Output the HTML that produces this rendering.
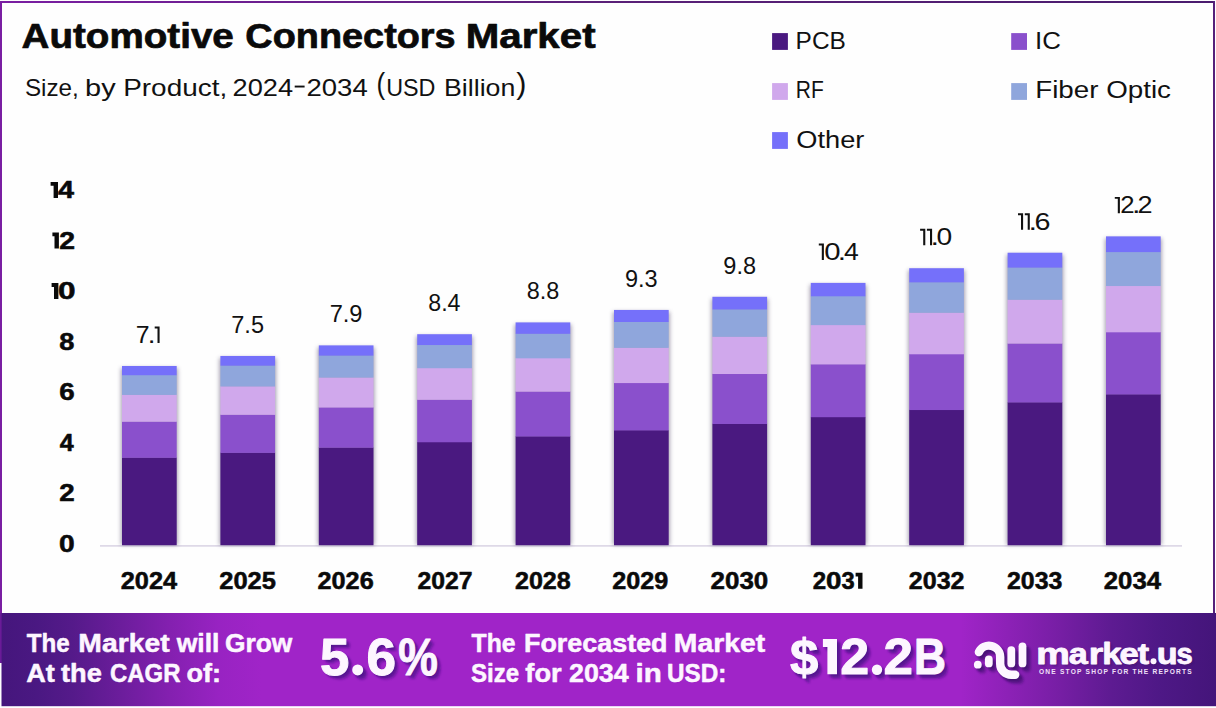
<!DOCTYPE html>
<html><head><meta charset="utf-8"><title>Automotive Connectors Market</title>
<style>html,body{margin:0;padding:0;background:#fff;}body{width:1216px;height:708px;overflow:hidden;font-family:"Liberation Sans",sans-serif;}svg{display:block;}text{font-family:"Liberation Sans",sans-serif;}</style></head><body>
<svg width="1216" height="708" viewBox="0 0 1216 708">
<defs>
<linearGradient id="bg" x1="0" y1="0" x2="1" y2="0">
<stop offset="0" stop-color="#45167c"/>
<stop offset="0.03" stop-color="#4a1882"/>
<stop offset="0.06" stop-color="#551a8a"/>
<stop offset="0.10" stop-color="#6c1d9c"/>
<stop offset="0.14" stop-color="#8420b0"/>
<stop offset="0.18" stop-color="#9823c2"/>
<stop offset="0.215" stop-color="#a024c8"/>
<stop offset="0.79" stop-color="#a024c8"/>
<stop offset="0.83" stop-color="#8c21b6"/>
<stop offset="0.872" stop-color="#761ea4"/>
<stop offset="0.913" stop-color="#5e1b92"/>
<stop offset="0.954" stop-color="#4e1886"/>
<stop offset="1" stop-color="#44157a"/>
</linearGradient>
<linearGradient id="bd" x1="0" y1="0" x2="1" y2="0">
<stop offset="0" stop-color="#7a1ea2"/>
<stop offset="0.5" stop-color="#5a2078"/>
<stop offset="1" stop-color="#4a1c6e"/>
</linearGradient>
<filter id="bsh" x="-20%" y="-5%" width="140%" height="110%"><feGaussianBlur stdDeviation="1.9"/></filter>
<filter id="tsh" x="-10%" y="-10%" width="130%" height="140%"><feGaussianBlur stdDeviation="1.2"/></filter>
</defs>
<rect x="0" y="0" width="1216" height="708" fill="#fefefe"/>
<rect x="0" y="1" width="1215" height="2" fill="url(#bd)"/>
<rect x="1213" y="1" width="2" height="613" fill="#55207a"/>
<text x="21.53" y="47.90" font-size="35" font-weight="700" fill="#0a0a0a" textLength="212.33" lengthAdjust="spacingAndGlyphs" stroke="#0a0a0a" stroke-width="0.7" stroke-linejoin="round">Automotive</text>
<text x="245.39" y="47.90" font-size="35" font-weight="700" fill="#0a0a0a" textLength="210.28" lengthAdjust="spacingAndGlyphs" stroke="#0a0a0a" stroke-width="0.7" stroke-linejoin="round">Connectors</text>
<text x="465.78" y="47.90" font-size="35" font-weight="700" fill="#0a0a0a" textLength="129.77" lengthAdjust="spacingAndGlyphs" stroke="#0a0a0a" stroke-width="0.7" stroke-linejoin="round">Market</text>
<text x="24.91" y="95.50" font-size="24" font-weight="400" fill="#111" textLength="53.89" lengthAdjust="spacingAndGlyphs" >Size,</text>
<text x="85.12" y="95.50" font-size="24" font-weight="400" fill="#111" textLength="30.59" lengthAdjust="spacingAndGlyphs" >by</text>
<text x="123.20" y="95.50" font-size="24" font-weight="400" fill="#111" textLength="104.00" lengthAdjust="spacingAndGlyphs" >Product,</text>
<text x="232.54" y="95.50" font-size="24" font-weight="400" fill="#111" textLength="60.47" lengthAdjust="spacingAndGlyphs" >2024</text>
<text x="306.52" y="95.50" font-size="24" font-weight="400" fill="#111" textLength="61.19" lengthAdjust="spacingAndGlyphs" >2034</text>
<text x="386.19" y="95.50" font-size="24" font-weight="400" fill="#111" textLength="49.29" lengthAdjust="spacingAndGlyphs" >USD</text>
<text x="444.00" y="95.50" font-size="24" font-weight="400" fill="#111" textLength="71.29" lengthAdjust="spacingAndGlyphs" >Billion</text>
<rect x="294.7" y="85.6" width="9.9" height="1.9" fill="#111"/>
<text x="376.47" y="93.80" font-size="30" font-weight="400" fill="#111" textLength="8.67" lengthAdjust="spacingAndGlyphs" >(</text>
<text x="516.17" y="93.80" font-size="30" font-weight="400" fill="#111" textLength="10.18" lengthAdjust="spacingAndGlyphs" >)</text>
<rect x="772.1" y="33.1" width="15.8" height="16.8" fill="#4a1980"/>
<text x="795.58" y="49.00" font-size="24.4" font-weight="400" fill="#111" textLength="50.27" lengthAdjust="spacingAndGlyphs" >PCB</text>
<rect x="772.1" y="83.1" width="15.8" height="16.8" fill="#d0a8ec"/>
<text x="795.87" y="97.70" font-size="24.4" font-weight="400" fill="#111" textLength="27.98" lengthAdjust="spacingAndGlyphs" >RF</text>
<rect x="772.1" y="132.1" width="15.8" height="16.8" fill="#7570fa"/>
<text x="796.31" y="147.50" font-size="24.4" font-weight="400" fill="#111" textLength="68.13" lengthAdjust="spacingAndGlyphs" >Other</text>
<rect x="1011.2" y="33.1" width="15.8" height="16.8" fill="#8a50cc"/>
<text x="1035.11" y="49.00" font-size="24.4" font-weight="400" fill="#111" textLength="25.86" lengthAdjust="spacingAndGlyphs" >IC</text>
<rect x="1011.2" y="83.1" width="15.8" height="16.8" fill="#8fa6dc"/>
<text x="1035.21" y="97.70" font-size="24.4" font-weight="400" fill="#111" textLength="135.76" lengthAdjust="spacingAndGlyphs" >Fiber Optic</text>
<text x="59.07" y="551.80" font-size="23" font-weight="700" fill="#0a0a0a" textLength="15.69" lengthAdjust="spacingAndGlyphs" stroke="#0a0a0a" stroke-width="0.5" stroke-linejoin="round">0</text>
<text x="59.23" y="501.26" font-size="23" font-weight="700" fill="#0a0a0a" textLength="15.45" lengthAdjust="spacingAndGlyphs" stroke="#0a0a0a" stroke-width="0.5" stroke-linejoin="round">2</text>
<text x="59.82" y="450.72" font-size="23" font-weight="700" fill="#0a0a0a" textLength="13.93" lengthAdjust="spacingAndGlyphs" stroke="#0a0a0a" stroke-width="0.5" stroke-linejoin="round">4</text>
<text x="59.16" y="400.18" font-size="23" font-weight="700" fill="#0a0a0a" textLength="15.45" lengthAdjust="spacingAndGlyphs" stroke="#0a0a0a" stroke-width="0.5" stroke-linejoin="round">6</text>
<text x="59.32" y="349.64" font-size="23" font-weight="700" fill="#0a0a0a" textLength="15.13" lengthAdjust="spacingAndGlyphs" stroke="#0a0a0a" stroke-width="0.5" stroke-linejoin="round">8</text>
<path d="M51.60 283.00H58.40V299.10H54.00V286.90H51.60Z" fill="#0a0a0a" />
<text x="58.04" y="299.10" font-size="23" font-weight="700" fill="#0a0a0a" textLength="17.56" lengthAdjust="spacingAndGlyphs" stroke="#0a0a0a" stroke-width="0.5" stroke-linejoin="round">0</text>
<path d="M52.40 232.46H58.90V248.56H54.50V236.36H52.40Z" fill="#0a0a0a" />
<text x="59.21" y="248.56" font-size="23" font-weight="700" fill="#0a0a0a" textLength="15.79" lengthAdjust="spacingAndGlyphs" stroke="#0a0a0a" stroke-width="0.5" stroke-linejoin="round">2</text>
<path d="M50.60 181.92H58.00V198.02H53.60V185.82H50.60Z" fill="#0a0a0a" />
<text x="58.07" y="198.02" font-size="23" font-weight="700" fill="#0a0a0a" textLength="16.01" lengthAdjust="spacingAndGlyphs" stroke="#0a0a0a" stroke-width="0.5" stroke-linejoin="round">4</text>
<rect x="100" y="545.1999999999999" width="1082" height="1.4" fill="#d6d0e2"/>
<rect x="121.0" y="368.0" width="56.7" height="176.9" fill="#5a5070" opacity="0.55" filter="url(#bsh)"/>
<rect x="122.0" y="457.50" width="54.7" height="87.70" fill="#4a1980"/>
<rect x="122.0" y="421.45" width="54.7" height="36.35" fill="#8a50cc"/>
<rect x="122.0" y="394.61" width="54.7" height="27.14" fill="#d0a8ec"/>
<rect x="122.0" y="374.93" width="54.7" height="19.98" fill="#8fa6dc"/>
<rect x="122.0" y="365.98" width="54.7" height="9.25" fill="#7570fa"/>
<text x="135.66" y="342.98" font-size="23.6" font-weight="400" fill="#111" textLength="13.81" lengthAdjust="spacingAndGlyphs" >7</text>
<text x="147.71" y="342.98" font-size="23.6" font-weight="400" fill="#111" textLength="7.69" lengthAdjust="spacingAndGlyphs" >.</text>
<path d="M154.70 326.58H159.60V342.98H157.50V328.48H154.70Z" fill="#111" />
<text x="120.71" y="588.80" font-size="23" font-weight="700" fill="#0a0a0a" textLength="56.37" lengthAdjust="spacingAndGlyphs" stroke="#0a0a0a" stroke-width="0.5" stroke-linejoin="round">2024</text>
<rect x="219.4" y="358.0" width="56.7" height="186.9" fill="#5a5070" opacity="0.55" filter="url(#bsh)"/>
<rect x="220.4" y="452.60" width="54.7" height="92.60" fill="#4a1980"/>
<rect x="220.4" y="414.53" width="54.7" height="38.37" fill="#8a50cc"/>
<rect x="220.4" y="386.19" width="54.7" height="28.64" fill="#d0a8ec"/>
<rect x="220.4" y="365.41" width="54.7" height="21.08" fill="#8fa6dc"/>
<rect x="220.4" y="355.96" width="54.7" height="9.75" fill="#7570fa"/>
<text x="231.27" y="332.96" font-size="23.6" font-weight="400" fill="#111" textLength="32.72" lengthAdjust="spacingAndGlyphs" >7.5</text>
<text x="219.21" y="588.80" font-size="23" font-weight="700" fill="#0a0a0a" textLength="56.75" lengthAdjust="spacingAndGlyphs" stroke="#0a0a0a" stroke-width="0.5" stroke-linejoin="round">2025</text>
<rect x="317.8" y="347.4" width="56.7" height="197.5" fill="#5a5070" opacity="0.55" filter="url(#bsh)"/>
<rect x="318.8" y="447.43" width="54.7" height="97.77" fill="#4a1980"/>
<rect x="318.8" y="407.23" width="54.7" height="40.50" fill="#8a50cc"/>
<rect x="318.8" y="377.30" width="54.7" height="30.23" fill="#d0a8ec"/>
<rect x="318.8" y="355.36" width="54.7" height="22.25" fill="#8fa6dc"/>
<rect x="318.8" y="345.38" width="54.7" height="10.28" fill="#7570fa"/>
<text x="329.67" y="322.38" font-size="23.6" font-weight="400" fill="#111" textLength="32.85" lengthAdjust="spacingAndGlyphs" >7.9</text>
<text x="317.52" y="588.80" font-size="23" font-weight="700" fill="#0a0a0a" textLength="56.22" lengthAdjust="spacingAndGlyphs" stroke="#0a0a0a" stroke-width="0.5" stroke-linejoin="round">2026</text>
<rect x="416.2" y="336.2" width="56.7" height="208.7" fill="#5a5070" opacity="0.55" filter="url(#bsh)"/>
<rect x="417.2" y="441.98" width="54.7" height="103.22" fill="#4a1980"/>
<rect x="417.2" y="399.52" width="54.7" height="42.75" fill="#8a50cc"/>
<rect x="417.2" y="367.92" width="54.7" height="31.90" fill="#d0a8ec"/>
<rect x="417.2" y="344.74" width="54.7" height="23.48" fill="#8fa6dc"/>
<rect x="417.2" y="334.21" width="54.7" height="10.83" fill="#7570fa"/>
<text x="428.26" y="311.21" font-size="23.6" font-weight="400" fill="#111" textLength="32.23" lengthAdjust="spacingAndGlyphs" >8.4</text>
<text x="417.53" y="588.80" font-size="23" font-weight="700" fill="#0a0a0a" textLength="55.07" lengthAdjust="spacingAndGlyphs" stroke="#0a0a0a" stroke-width="0.5" stroke-linejoin="round">2027</text>
<rect x="514.6" y="324.4" width="56.7" height="220.5" fill="#5a5070" opacity="0.55" filter="url(#bsh)"/>
<rect x="515.6" y="436.21" width="54.7" height="108.99" fill="#4a1980"/>
<rect x="515.6" y="391.38" width="54.7" height="45.13" fill="#8a50cc"/>
<rect x="515.6" y="358.01" width="54.7" height="33.67" fill="#d0a8ec"/>
<rect x="515.6" y="333.53" width="54.7" height="24.77" fill="#8fa6dc"/>
<rect x="515.6" y="322.41" width="54.7" height="11.42" fill="#7570fa"/>
<text x="526.65" y="299.41" font-size="23.6" font-weight="400" fill="#111" textLength="32.60" lengthAdjust="spacingAndGlyphs" >8.8</text>
<text x="514.92" y="588.80" font-size="23" font-weight="700" fill="#0a0a0a" textLength="55.89" lengthAdjust="spacingAndGlyphs" stroke="#0a0a0a" stroke-width="0.5" stroke-linejoin="round">2028</text>
<rect x="613.0" y="311.9" width="56.7" height="233.0" fill="#5a5070" opacity="0.55" filter="url(#bsh)"/>
<rect x="614.0" y="430.13" width="54.7" height="115.07" fill="#4a1980"/>
<rect x="614.0" y="382.78" width="54.7" height="47.64" fill="#8a50cc"/>
<rect x="614.0" y="347.54" width="54.7" height="35.54" fill="#d0a8ec"/>
<rect x="614.0" y="321.70" width="54.7" height="26.14" fill="#8fa6dc"/>
<rect x="614.0" y="309.95" width="54.7" height="12.05" fill="#7570fa"/>
<text x="624.93" y="286.95" font-size="23.6" font-weight="400" fill="#111" textLength="32.72" lengthAdjust="spacingAndGlyphs" >9.3</text>
<text x="612.32" y="588.80" font-size="23" font-weight="700" fill="#0a0a0a" textLength="56.02" lengthAdjust="spacingAndGlyphs" stroke="#0a0a0a" stroke-width="0.5" stroke-linejoin="round">2029</text>
<rect x="711.4" y="298.8" width="56.7" height="246.1" fill="#5a5070" opacity="0.55" filter="url(#bsh)"/>
<rect x="712.4" y="423.70" width="54.7" height="121.50" fill="#4a1980"/>
<rect x="712.4" y="373.70" width="54.7" height="50.29" fill="#8a50cc"/>
<rect x="712.4" y="336.49" width="54.7" height="37.52" fill="#d0a8ec"/>
<rect x="712.4" y="309.20" width="54.7" height="27.59" fill="#8fa6dc"/>
<rect x="712.4" y="296.79" width="54.7" height="12.71" fill="#7570fa"/>
<text x="723.33" y="273.79" font-size="23.6" font-weight="400" fill="#111" textLength="32.72" lengthAdjust="spacingAndGlyphs" >9.8</text>
<text x="710.59" y="588.80" font-size="23" font-weight="700" fill="#0a0a0a" textLength="57.70" lengthAdjust="spacingAndGlyphs" stroke="#0a0a0a" stroke-width="0.5" stroke-linejoin="round">2030</text>
<rect x="809.8" y="284.9" width="56.7" height="260.0" fill="#5a5070" opacity="0.55" filter="url(#bsh)"/>
<rect x="810.8" y="416.91" width="54.7" height="128.29" fill="#4a1980"/>
<rect x="810.8" y="364.12" width="54.7" height="53.09" fill="#8a50cc"/>
<rect x="810.8" y="324.82" width="54.7" height="39.60" fill="#d0a8ec"/>
<rect x="810.8" y="296.00" width="54.7" height="29.12" fill="#8fa6dc"/>
<rect x="810.8" y="282.90" width="54.7" height="13.40" fill="#7570fa"/>
<path d="M818.80 243.50H823.90V259.90H821.80V245.40H818.80Z" fill="#111" />
<text x="824.23" y="259.90" font-size="23.6" font-weight="400" fill="#111" textLength="16.31" lengthAdjust="spacingAndGlyphs" >0</text>
<text x="837.72" y="259.90" font-size="23.6" font-weight="400" fill="#111" textLength="8.26" lengthAdjust="spacingAndGlyphs" >.</text>
<text x="843.90" y="259.90" font-size="23.6" font-weight="400" fill="#111" textLength="14.76" lengthAdjust="spacingAndGlyphs" >4</text>
<text x="812.86" y="588.80" font-size="23" font-weight="700" fill="#0a0a0a" textLength="13.37" lengthAdjust="spacingAndGlyphs" stroke="#0a0a0a" stroke-width="0.5" stroke-linejoin="round">2</text>
<text x="825.99" y="588.80" font-size="23" font-weight="700" fill="#0a0a0a" textLength="15.46" lengthAdjust="spacingAndGlyphs" stroke="#0a0a0a" stroke-width="0.5" stroke-linejoin="round">0</text>
<text x="841.57" y="588.80" font-size="23" font-weight="700" fill="#0a0a0a" textLength="13.19" lengthAdjust="spacingAndGlyphs" stroke="#0a0a0a" stroke-width="0.5" stroke-linejoin="round">3</text>
<path d="M855.60 572.70H862.50V588.80H858.10V576.60H855.60Z" fill="#0a0a0a" />
<rect x="908.2" y="270.2" width="56.7" height="274.7" fill="#5a5070" opacity="0.55" filter="url(#bsh)"/>
<rect x="909.2" y="409.74" width="54.7" height="135.46" fill="#4a1980"/>
<rect x="909.2" y="353.99" width="54.7" height="56.05" fill="#8a50cc"/>
<rect x="909.2" y="312.49" width="54.7" height="41.80" fill="#d0a8ec"/>
<rect x="909.2" y="282.06" width="54.7" height="30.73" fill="#8fa6dc"/>
<rect x="909.2" y="268.22" width="54.7" height="14.13" fill="#7570fa"/>
<path d="M920.10 228.82H925.30V245.22H923.20V230.72H920.10Z" fill="#111" />
<path d="M926.90 228.82H932.10V245.22H930.00V230.72H926.90Z" fill="#111" />
<text x="930.53" y="245.22" font-size="23.6" font-weight="400" fill="#111" textLength="8.55" lengthAdjust="spacingAndGlyphs" >.</text>
<text x="936.57" y="245.22" font-size="23.6" font-weight="400" fill="#111" textLength="15.72" lengthAdjust="spacingAndGlyphs" >0</text>
<text x="908.82" y="588.80" font-size="23" font-weight="700" fill="#0a0a0a" textLength="55.67" lengthAdjust="spacingAndGlyphs" stroke="#0a0a0a" stroke-width="0.5" stroke-linejoin="round">2032</text>
<rect x="1006.6" y="254.7" width="56.7" height="290.2" fill="#5a5070" opacity="0.55" filter="url(#bsh)"/>
<rect x="1007.6" y="402.18" width="54.7" height="143.02" fill="#4a1980"/>
<rect x="1007.6" y="343.30" width="54.7" height="59.17" fill="#8a50cc"/>
<rect x="1007.6" y="299.48" width="54.7" height="44.13" fill="#d0a8ec"/>
<rect x="1007.6" y="267.34" width="54.7" height="32.44" fill="#8fa6dc"/>
<rect x="1007.6" y="252.73" width="54.7" height="14.91" fill="#7570fa"/>
<path d="M1018.00 213.33H1023.10V229.73H1021.00V215.23H1018.00Z" fill="#111" />
<path d="M1024.80 213.33H1029.80V229.73H1027.70V215.23H1024.80Z" fill="#111" />
<text x="1028.53" y="229.73" font-size="23.6" font-weight="400" fill="#111" textLength="8.55" lengthAdjust="spacingAndGlyphs" >.</text>
<text x="1034.46" y="229.73" font-size="23.6" font-weight="400" fill="#111" textLength="15.99" lengthAdjust="spacingAndGlyphs" >6</text>
<text x="1007.03" y="588.80" font-size="23" font-weight="700" fill="#0a0a0a" textLength="55.40" lengthAdjust="spacingAndGlyphs" stroke="#0a0a0a" stroke-width="0.5" stroke-linejoin="round">2033</text>
<rect x="1105.0" y="238.4" width="56.7" height="306.5" fill="#5a5070" opacity="0.55" filter="url(#bsh)"/>
<rect x="1106.0" y="394.18" width="54.7" height="151.02" fill="#4a1980"/>
<rect x="1106.0" y="332.01" width="54.7" height="62.47" fill="#8a50cc"/>
<rect x="1106.0" y="285.73" width="54.7" height="46.58" fill="#d0a8ec"/>
<rect x="1106.0" y="251.80" width="54.7" height="34.24" fill="#8fa6dc"/>
<rect x="1106.0" y="236.37" width="54.7" height="15.73" fill="#7570fa"/>
<path d="M1114.80 196.97H1119.90V213.37H1117.80V198.87H1114.80Z" fill="#111" />
<text x="1120.31" y="213.37" font-size="23.6" font-weight="400" fill="#111" textLength="14.30" lengthAdjust="spacingAndGlyphs" >2</text>
<text x="1131.93" y="213.37" font-size="23.6" font-weight="400" fill="#111" textLength="8.55" lengthAdjust="spacingAndGlyphs" >.</text>
<text x="1137.55" y="213.37" font-size="23.6" font-weight="400" fill="#111" textLength="15.03" lengthAdjust="spacingAndGlyphs" >2</text>
<text x="1103.80" y="588.80" font-size="23" font-weight="700" fill="#0a0a0a" textLength="57.29" lengthAdjust="spacingAndGlyphs" stroke="#0a0a0a" stroke-width="0.5" stroke-linejoin="round">2034</text>
<rect x="0" y="613" width="1216" height="93.2" fill="url(#bg)"/>
<rect x="0" y="663" width="1.5" height="45" fill="#fefefe"/>
<rect x="0" y="1" width="2" height="612" fill="#7a1ea2"/>
<rect x="0" y="613" width="1.6" height="50" fill="#6a1b98"/>
<text x="26.66" y="652.00" font-size="25.1" font-weight="700" fill="#fdf6ff" textLength="42.94" lengthAdjust="spacingAndGlyphs" stroke="#fdf6ff" stroke-width="0.5" stroke-linejoin="round">The</text>
<text x="78.39" y="652.00" font-size="25.1" font-weight="700" fill="#fdf6ff" textLength="91.20" lengthAdjust="spacingAndGlyphs" stroke="#fdf6ff" stroke-width="0.5" stroke-linejoin="round">Market</text>
<text x="176.67" y="652.00" font-size="25.1" font-weight="700" fill="#fdf6ff" textLength="42.83" lengthAdjust="spacingAndGlyphs" stroke="#fdf6ff" stroke-width="0.5" stroke-linejoin="round">will</text>
<text x="225.05" y="652.00" font-size="25.1" font-weight="700" fill="#fdf6ff" textLength="67.31" lengthAdjust="spacingAndGlyphs" stroke="#fdf6ff" stroke-width="0.5" stroke-linejoin="round">Grow</text>
<text x="26.22" y="681.80" font-size="25.1" font-weight="700" fill="#fdf6ff" textLength="28.62" lengthAdjust="spacingAndGlyphs" stroke="#fdf6ff" stroke-width="0.5" stroke-linejoin="round">At</text>
<text x="61.06" y="681.80" font-size="25.1" font-weight="700" fill="#fdf6ff" textLength="40.83" lengthAdjust="spacingAndGlyphs" stroke="#fdf6ff" stroke-width="0.5" stroke-linejoin="round">the</text>
<text x="110.04" y="681.80" font-size="25.1" font-weight="700" fill="#fdf6ff" textLength="70.48" lengthAdjust="spacingAndGlyphs" stroke="#fdf6ff" stroke-width="0.5" stroke-linejoin="round">CAGR</text>
<text x="186.52" y="681.80" font-size="25.1" font-weight="700" fill="#fdf6ff" textLength="34.53" lengthAdjust="spacingAndGlyphs" stroke="#fdf6ff" stroke-width="0.5" stroke-linejoin="round">of:</text>
<text x="471.55" y="652.00" font-size="25.1" font-weight="700" fill="#fdf6ff" textLength="43.96" lengthAdjust="spacingAndGlyphs" stroke="#fdf6ff" stroke-width="0.5" stroke-linejoin="round">The</text>
<text x="523.98" y="652.00" font-size="25.1" font-weight="700" fill="#fdf6ff" textLength="143.58" lengthAdjust="spacingAndGlyphs" stroke="#fdf6ff" stroke-width="0.5" stroke-linejoin="round">Forecasted</text>
<text x="673.89" y="652.00" font-size="25.1" font-weight="700" fill="#fdf6ff" textLength="91.20" lengthAdjust="spacingAndGlyphs" stroke="#fdf6ff" stroke-width="0.5" stroke-linejoin="round">Market</text>
<text x="471.08" y="681.60" font-size="25.1" font-weight="700" fill="#fdf6ff" textLength="48.13" lengthAdjust="spacingAndGlyphs" stroke="#fdf6ff" stroke-width="0.5" stroke-linejoin="round">Size</text>
<text x="525.32" y="681.60" font-size="25.1" font-weight="700" fill="#fdf6ff" textLength="36.33" lengthAdjust="spacingAndGlyphs" stroke="#fdf6ff" stroke-width="0.5" stroke-linejoin="round">for</text>
<text x="569.06" y="681.60" font-size="25.1" font-weight="700" fill="#fdf6ff" textLength="59.53" lengthAdjust="spacingAndGlyphs" stroke="#fdf6ff" stroke-width="0.5" stroke-linejoin="round">2034</text>
<text x="635.53" y="681.60" font-size="25.1" font-weight="700" fill="#fdf6ff" textLength="26.28" lengthAdjust="spacingAndGlyphs" stroke="#fdf6ff" stroke-width="0.5" stroke-linejoin="round">in</text>
<text x="666.94" y="681.60" font-size="25.1" font-weight="700" fill="#fdf6ff" textLength="59.35" lengthAdjust="spacingAndGlyphs" stroke="#fdf6ff" stroke-width="0.5" stroke-linejoin="round">USD:</text>
<text x="324.31" y="678.90" font-size="51.5" font-weight="700" fill="#4a1088" textLength="29.40" lengthAdjust="spacingAndGlyphs" fill-opacity="0.55" filter="url(#tsh)">5</text>
<circle cx="361.9" cy="674.3" r="5.5" fill="#4a1088" fill-opacity="0.55" filter="url(#tsh)"/>
<text x="370.60" y="678.90" font-size="51.5" font-weight="700" fill="#4a1088" textLength="29.62" lengthAdjust="spacingAndGlyphs" fill-opacity="0.55" filter="url(#tsh)">6</text>
<text x="402.39" y="678.90" font-size="51.5" font-weight="700" fill="#4a1088" textLength="39.60" lengthAdjust="spacingAndGlyphs" fill-opacity="0.55" filter="url(#tsh)">%</text>
<text x="322.31" y="676.90" font-size="51.5" font-weight="700" fill="#4a1088" textLength="29.40" lengthAdjust="spacingAndGlyphs" fill-opacity="0.8" filter="url(#tsh)">5</text>
<circle cx="359.9" cy="672.3" r="5.5" fill="#4a1088" fill-opacity="0.8" filter="url(#tsh)"/>
<text x="368.60" y="676.90" font-size="51.5" font-weight="700" fill="#4a1088" textLength="29.62" lengthAdjust="spacingAndGlyphs" fill-opacity="0.8" filter="url(#tsh)">6</text>
<text x="400.39" y="676.90" font-size="51.5" font-weight="700" fill="#4a1088" textLength="39.60" lengthAdjust="spacingAndGlyphs" fill-opacity="0.8" filter="url(#tsh)">%</text>
<text x="320.11" y="674.50" font-size="51.5" font-weight="700" fill="#fdf6ff" textLength="29.40" lengthAdjust="spacingAndGlyphs" stroke="#fdf6ff" stroke-width="1" stroke-linejoin="round">5</text>
<circle cx="357.7" cy="669.9" r="5.5" fill="#fdf6ff"/>
<text x="366.40" y="674.50" font-size="51.5" font-weight="700" fill="#fdf6ff" textLength="29.62" lengthAdjust="spacingAndGlyphs" stroke="#fdf6ff" stroke-width="1" stroke-linejoin="round">6</text>
<text x="398.19" y="674.50" font-size="51.5" font-weight="700" fill="#fdf6ff" textLength="39.60" lengthAdjust="spacingAndGlyphs" stroke="#fdf6ff" stroke-width="1" stroke-linejoin="round">%</text>
<text x="794.26" y="678.70" font-size="50.5" font-weight="700" fill="#4a1088" textLength="28.33" lengthAdjust="spacingAndGlyphs" fill-opacity="0.55" filter="url(#tsh)">$</text>
<path d="M827.10 643.30H841.20V678.70H831.60V651.30H827.10Z" fill="#4a1088" fill-opacity="0.55" filter="url(#tsh)"/>
<text x="844.58" y="678.70" font-size="50.5" font-weight="700" fill="#4a1088" textLength="28.93" lengthAdjust="spacingAndGlyphs" fill-opacity="0.55" filter="url(#tsh)">2</text>
<circle cx="881.2" cy="674.1" r="5.2" fill="#4a1088" fill-opacity="0.55" filter="url(#tsh)"/>
<text x="887.74" y="678.70" font-size="50.5" font-weight="700" fill="#4a1088" textLength="29.51" lengthAdjust="spacingAndGlyphs" fill-opacity="0.55" filter="url(#tsh)">2</text>
<text x="918.10" y="678.70" font-size="50.5" font-weight="700" fill="#4a1088" textLength="32.08" lengthAdjust="spacingAndGlyphs" fill-opacity="0.55" filter="url(#tsh)">B</text>
<text x="792.26" y="676.70" font-size="50.5" font-weight="700" fill="#4a1088" textLength="28.33" lengthAdjust="spacingAndGlyphs" fill-opacity="0.8" filter="url(#tsh)">$</text>
<path d="M825.10 641.30H839.20V676.70H829.60V649.30H825.10Z" fill="#4a1088" fill-opacity="0.8" filter="url(#tsh)"/>
<text x="842.58" y="676.70" font-size="50.5" font-weight="700" fill="#4a1088" textLength="28.93" lengthAdjust="spacingAndGlyphs" fill-opacity="0.8" filter="url(#tsh)">2</text>
<circle cx="879.2" cy="672.1" r="5.2" fill="#4a1088" fill-opacity="0.8" filter="url(#tsh)"/>
<text x="885.74" y="676.70" font-size="50.5" font-weight="700" fill="#4a1088" textLength="29.51" lengthAdjust="spacingAndGlyphs" fill-opacity="0.8" filter="url(#tsh)">2</text>
<text x="916.10" y="676.70" font-size="50.5" font-weight="700" fill="#4a1088" textLength="32.08" lengthAdjust="spacingAndGlyphs" fill-opacity="0.8" filter="url(#tsh)">B</text>
<text x="790.06" y="674.30" font-size="50.5" font-weight="700" fill="#fdf6ff" textLength="28.33" lengthAdjust="spacingAndGlyphs" stroke="#fdf6ff" stroke-width="1" stroke-linejoin="round">$</text>
<path d="M822.90 638.90H837.00V674.30H827.40V646.90H822.90Z" fill="#fdf6ff" />
<text x="840.38" y="674.30" font-size="50.5" font-weight="700" fill="#fdf6ff" textLength="28.93" lengthAdjust="spacingAndGlyphs" stroke="#fdf6ff" stroke-width="1" stroke-linejoin="round">2</text>
<circle cx="877.0" cy="669.7" r="5.2" fill="#fdf6ff"/>
<text x="883.54" y="674.30" font-size="50.5" font-weight="700" fill="#fdf6ff" textLength="29.51" lengthAdjust="spacingAndGlyphs" stroke="#fdf6ff" stroke-width="1" stroke-linejoin="round">2</text>
<text x="913.90" y="674.30" font-size="50.5" font-weight="700" fill="#fdf6ff" textLength="32.08" lengthAdjust="spacingAndGlyphs" stroke="#fdf6ff" stroke-width="1" stroke-linejoin="round">B</text>
<g transform="translate(4.5,5)" stroke="#3a0f6a" fill="none" stroke-linecap="round" opacity="0.45" filter="url(#tsh)">
<path d="M978.9 652.1 A11.2 11.2 0 0 1 1000.2 657 L1000.2 663.8 A11 11 0 0 0 1011.2 674.8 L1015.2 674.8" stroke-width="8.4"/>
<path d="M988.8 659.4 L988.8 663.4" stroke-width="7.8"/>
<path d="M1011.3 650.1 L1011.3 663.4" stroke-width="7.8"/>
<path d="M1022.5 646.3 L1022.5 663.4" stroke-width="7.8"/>
<circle cx="977.8" cy="664.7" r="3.9" fill="#3a0f6a" stroke="none"/>
</g>
<g transform="translate(2.2,2.6)" stroke="#3a0f6a" fill="none" stroke-linecap="round" opacity="0.7" filter="url(#tsh)">
<path d="M978.9 652.1 A11.2 11.2 0 0 1 1000.2 657 L1000.2 663.8 A11 11 0 0 0 1011.2 674.8 L1015.2 674.8" stroke-width="8.4"/>
<path d="M988.8 659.4 L988.8 663.4" stroke-width="7.8"/>
<path d="M1011.3 650.1 L1011.3 663.4" stroke-width="7.8"/>
<path d="M1022.5 646.3 L1022.5 663.4" stroke-width="7.8"/>
<circle cx="977.8" cy="664.7" r="3.9" fill="#3a0f6a" stroke="none"/>
</g>
<g transform="translate(0,0)" stroke="#fdf6ff" fill="none" stroke-linecap="round" opacity="1" >
<path d="M978.9 652.1 A11.2 11.2 0 0 1 1000.2 657 L1000.2 663.8 A11 11 0 0 0 1011.2 674.8 L1015.2 674.8" stroke-width="8.4"/>
<path d="M988.8 659.4 L988.8 663.4" stroke-width="7.8"/>
<path d="M1011.3 650.1 L1011.3 663.4" stroke-width="7.8"/>
<path d="M1022.5 646.3 L1022.5 663.4" stroke-width="7.8"/>
<circle cx="977.8" cy="664.7" r="3.9" fill="#fdf6ff" stroke="none"/>
</g>
<text x="1038.04" y="666.10" font-size="28.6" font-weight="700" fill="#3a0f6a" textLength="33.58" lengthAdjust="spacingAndGlyphs" fill-opacity="0.6" filter="url(#tsh)">m</text>
<text x="1070.57" y="666.10" font-size="28.6" font-weight="700" fill="#3a0f6a" textLength="19.01" lengthAdjust="spacingAndGlyphs" fill-opacity="0.6" filter="url(#tsh)">a</text>
<text x="1090.59" y="666.10" font-size="28.6" font-weight="700" fill="#3a0f6a" textLength="14.44" lengthAdjust="spacingAndGlyphs" fill-opacity="0.6" filter="url(#tsh)">r</text>
<text x="1104.19" y="666.10" font-size="28.6" font-weight="700" fill="#3a0f6a" textLength="19.17" lengthAdjust="spacingAndGlyphs" fill-opacity="0.6" filter="url(#tsh)">k</text>
<text x="1121.32" y="666.10" font-size="28.6" font-weight="700" fill="#3a0f6a" textLength="19.25" lengthAdjust="spacingAndGlyphs" fill-opacity="0.6" filter="url(#tsh)">e</text>
<text x="1139.67" y="666.10" font-size="28.6" font-weight="700" fill="#3a0f6a" textLength="11.37" lengthAdjust="spacingAndGlyphs" fill-opacity="0.6" filter="url(#tsh)">t</text>
<text x="1158.56" y="666.10" font-size="28.6" font-weight="700" fill="#3a0f6a" textLength="20.89" lengthAdjust="spacingAndGlyphs" fill-opacity="0.6" filter="url(#tsh)">u</text>
<text x="1178.28" y="666.10" font-size="28.6" font-weight="700" fill="#3a0f6a" textLength="16.22" lengthAdjust="spacingAndGlyphs" fill-opacity="0.6" filter="url(#tsh)">s</text>
<circle cx="1155.3" cy="663.4" r="3" fill="#3a0f6a" fill-opacity="0.6" filter="url(#tsh)"/>
<circle cx="1153.5" cy="661.3" r="3" fill="#fdf6ff"/>
<text x="1036.24" y="663.90" font-size="28.6" font-weight="700" fill="#fdf6ff" textLength="33.58" lengthAdjust="spacingAndGlyphs" stroke="#fdf6ff" stroke-width="0.8" stroke-linejoin="round">m</text>
<text x="1068.77" y="663.90" font-size="28.6" font-weight="700" fill="#fdf6ff" textLength="19.01" lengthAdjust="spacingAndGlyphs" stroke="#fdf6ff" stroke-width="0.8" stroke-linejoin="round">a</text>
<text x="1088.79" y="663.90" font-size="28.6" font-weight="700" fill="#fdf6ff" textLength="14.44" lengthAdjust="spacingAndGlyphs" stroke="#fdf6ff" stroke-width="0.8" stroke-linejoin="round">r</text>
<text x="1102.39" y="663.90" font-size="28.6" font-weight="700" fill="#fdf6ff" textLength="19.17" lengthAdjust="spacingAndGlyphs" stroke="#fdf6ff" stroke-width="0.8" stroke-linejoin="round">k</text>
<text x="1119.52" y="663.90" font-size="28.6" font-weight="700" fill="#fdf6ff" textLength="19.25" lengthAdjust="spacingAndGlyphs" stroke="#fdf6ff" stroke-width="0.8" stroke-linejoin="round">e</text>
<text x="1137.87" y="663.90" font-size="28.6" font-weight="700" fill="#fdf6ff" textLength="11.37" lengthAdjust="spacingAndGlyphs" stroke="#fdf6ff" stroke-width="0.8" stroke-linejoin="round">t</text>
<text x="1156.76" y="663.90" font-size="28.6" font-weight="700" fill="#fdf6ff" textLength="20.89" lengthAdjust="spacingAndGlyphs" stroke="#fdf6ff" stroke-width="0.8" stroke-linejoin="round">u</text>
<text x="1176.48" y="663.90" font-size="28.6" font-weight="700" fill="#fdf6ff" textLength="16.22" lengthAdjust="spacingAndGlyphs" stroke="#fdf6ff" stroke-width="0.8" stroke-linejoin="round">s</text>
<text x="1039" y="673.6" font-size="6.6" font-weight="700" fill="#f0e0f8" textLength="152.6" lengthAdjust="spacing">ONE STOP SHOP FOR THE REPORTS</text>
</svg></body></html>
